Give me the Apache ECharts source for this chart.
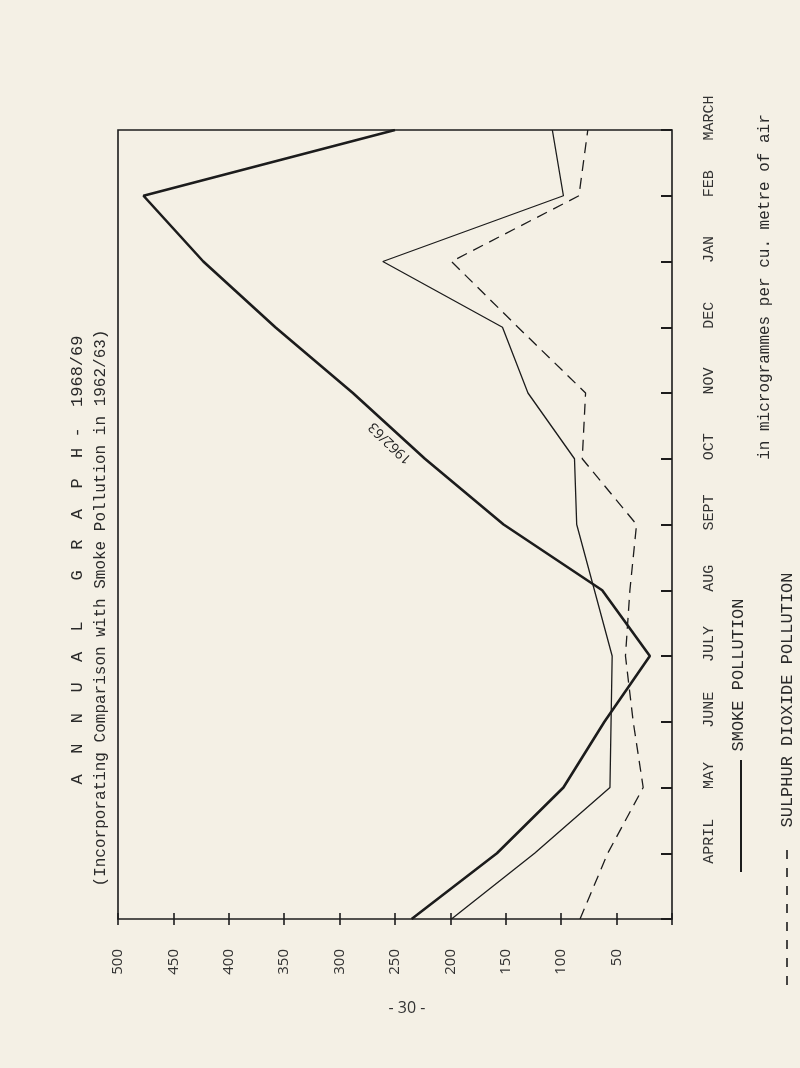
<!DOCTYPE html>
<html>
<head>
<meta charset="utf-8">
<script src="https://cdn.jsdelivr.net/npm/echarts@6/dist/echarts.min.js"></script>
<style>
html,body{margin:0;padding:0;background:#f4f0e5;}
#chart{width:800px;height:1068px;}
</style>
</head>
<body>
<div id="chart"></div>
<script>
// Month positions (bottom edge = start point, then APRIL ... MARCH)
var months = ['', 'APRIL', 'MAY', 'JUNE', 'JULY', 'AUG', 'SEPT', 'OCT', 'NOV', 'DEC', 'JAN', 'FEB', 'MARCH'];
// micrograms per cubic metre of air
var smoke1962 = [235, 158, 98, 61, 20, 63, 152, 223, 288, 358, 423, 477, 250];
var smoke1968 = [199, 124, 56, 55, 54, 70, 86, 88, 130, 153, 261, 98, 108];
var so2_1968  = [83, 58, 26, 35, 42, 38, 32, 81, 78, 139, 199, 84, 76];
var valueTicks = [0, 50, 100, 150, 200, 250, 300, 350, 400, 450, 500];

function pairs(arr){ return arr.map(function(v,i){ return [v, months[i]]; }); }

var ink = '#1c1c1c';
var mono = '"Liberation Mono", "DejaVu Sans Mono", monospace';
var R = Math.PI / 2;

var chart = echarts.init(document.getElementById('chart'));
chart.setOption({
  backgroundColor: '#f4f0e5',
  animation: false,
  grid: {left: 118, right: 128, top: 130, bottom: 149, show: true,
         borderColor: ink, borderWidth: 1.6, backgroundColor: 'transparent'},
  xAxis: {
    type: 'value', min: valueTicks[0], max: valueTicks[valueTicks.length-1], interval: 50,
    inverse: true, position: 'bottom', offset: -6,
    axisLine: {show: false},
    axisTick: {show: true, length: 12, lineStyle: {color: ink, width: 1.6}},
    splitLine: {show: false},
    axisLabel: {rotate: 90, margin: 36, fontFamily: '"Open Sans", sans-serif', fontSize: 15, color: '#333',
                formatter: function(v){ return v === 0 ? '' : String(v); }}
  },
  yAxis: {
    type: 'category', data: months, boundaryGap: false, position: 'right',
    axisLine: {show: false},
    axisTick: {show: true, inside: true, length: 11, lineStyle: {color: ink, width: 2}},
    splitLine: {show: false},
    axisLabel: {rotate: 90, margin: 30, fontFamily: mono, fontSize: 15, color: '#333',
                padding: [0, 0, 0, 24]}
  },
  series: [
    {name: 'Smoke 1962/63', type: 'line', data: pairs(smoke1962), symbol: 'none',
     lineStyle: {color: ink, width: 2.6}},
    {name: 'Smoke 1968/69', type: 'line', data: pairs(smoke1968), symbol: 'none',
     lineStyle: {color: ink, width: 1.3}},
    {name: 'Sulphur dioxide 1968/69', type: 'line', data: pairs(so2_1968), symbol: 'none',
     lineStyle: {color: ink, width: 1.3, type: [11, 7]}}
  ],
  graphic: [
    {type: 'text', x: 77, y: 560, rotation: R,
     style: {text: 'A  N  N  U  A  L    G  R  A  P  H -  1968/69', font: '17px ' + mono, fill: '#2a2a2a',
             textAlign: 'center', textVerticalAlign: 'middle'}},
    {type: 'text', x: 101, y: 608, rotation: R,
     style: {text: '(Incorporating Comparison with Smoke Pollution in 1962/63)', font: '16px ' + mono, fill: '#2a2a2a',
             textAlign: 'center', textVerticalAlign: 'middle'}},
    {type: 'text', x: 395, y: 438, rotation: 2.38,
     style: {text: '1962/63', font: '14px "Open Sans", sans-serif', fill: '#222',
             textAlign: 'center', textVerticalAlign: 'bottom'}},
    {type: 'text', x: 738, y: 675, rotation: R,
     style: {text: 'SMOKE POLLUTION', font: '17px ' + mono, fill: '#2a2a2a',
             textAlign: 'center', textVerticalAlign: 'middle'}},
    {type: 'line', shape: {x1: 741, y1: 760, x2: 741, y2: 872}, style: {stroke: ink, lineWidth: 2}},
    {type: 'text', x: 765, y: 287, rotation: R,
     style: {text: 'in microgrammes per cu. metre of air', font: '16px ' + mono, fill: '#2a2a2a',
             textAlign: 'center', textVerticalAlign: 'middle'}},
    {type: 'line', shape: {x1: 787, y1: 850, x2: 787, y2: 985}, style: {stroke: ink, lineWidth: 1.6, lineDash: [9, 9]}},
    {type: 'text', x: 787, y: 700, rotation: R,
     style: {text: 'SULPHUR DIOXIDE POLLUTION', font: '17px ' + mono, fill: '#2a2a2a',
             textAlign: 'center', textVerticalAlign: 'middle'}},
    {type: 'text', x: 407, y: 1008,
     style: {text: '- 30 -', font: '16px "Open Sans", sans-serif', fill: '#333',
             textAlign: 'center', textVerticalAlign: 'middle'}}
  ]
});
</script>
</body>
</html>
